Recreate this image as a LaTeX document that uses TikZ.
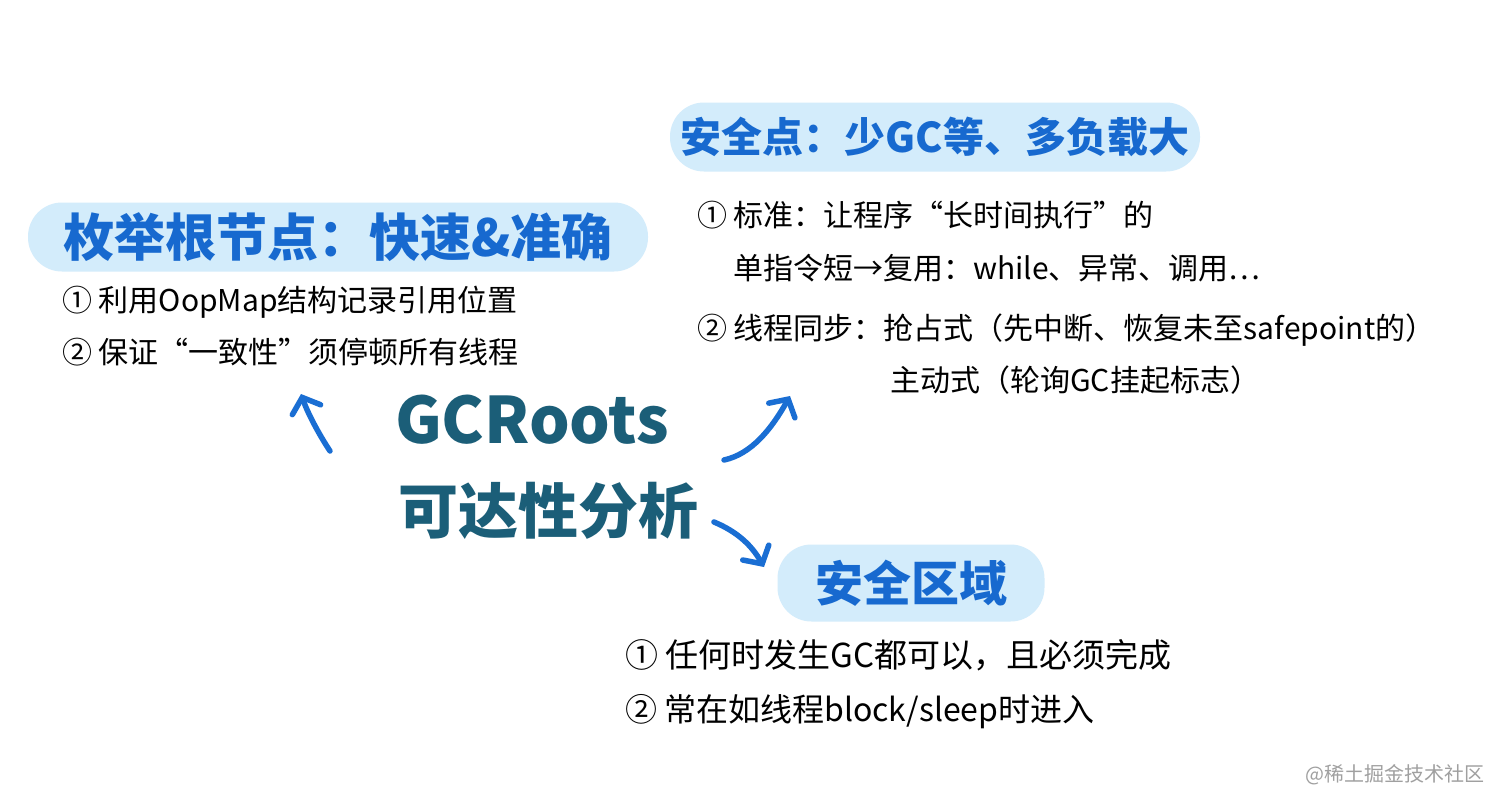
\documentclass[tikz,border=0pt]{standalone}
\usepackage{fontspec}
\setmainfont{Noto Sans CJK SC}
\usetikzlibrary{arrows.meta}
\definecolor{pillfill}{HTML}{D3ECFB}
\definecolor{titleblue}{HTML}{1769CF}
\definecolor{hubteal}{HTML}{1B5E78}
\definecolor{arrowblue}{HTML}{1A6ED3}
\definecolor{wmgray}{HTML}{A0A0A0}
\begin{document}
\begin{tikzpicture}[x=1pt,y=-1pt,
  pill/.style={fill=pillfill, rounded corners=34pt, inner sep=0pt, text=titleblue},
  body/.style={anchor=west, inner sep=0pt, font=\fontsize{30}{34}\selectfont},
  hub/.style={text=hubteal, inner sep=0pt},
  arr/.style={draw=arrowblue, line width=5.5pt, line cap=round, line join=round,
              -{Straight Barb[length=13pt,width=30pt,line cap=round]}}
]
\useasboundingbox (0,0) rectangle (1512,809);
\fill[white] (0,0) rectangle (1512,809);

% title pills
\node[pill, minimum width=530pt, minimum height=69pt,
      font=\bfseries\fontsize{41}{46}\selectfont] (sp) at (935,137) {安全点：少GC等、多负载大};
\node[pill, minimum width=620pt, minimum height=69pt,
      font=\bfseries\fontsize{51}{55}\selectfont] (enum) at (338,237) {枚举根节点：快速\&准确};
\node[pill, minimum width=267pt, minimum height=77pt,
      font=\bfseries\fontsize{48}{52}\selectfont] (sr) at (911,583) {安全区域};

% centre
\node[hub, font=\bfseries\fontsize{64}{68}\selectfont] (gc) at (532,420) {GCRoots};
\node[hub, font=\bfseries\fontsize{60}{64}\selectfont] (reach) at (548,511) {可达性分析};

% body texts
\node[body] (l1) at (62,302) {① 利用OopMap结构记录引用位置};
\node[body] (l2) at (62,352) {② 保证“一致性”须停顿所有线程};
\node[body] (r1) at (697,215) {① 标准：让程序“长时间执行”的};
\node[body] (r2) at (733,268) {单指令短→复用：while、异常、调用…};
\node[body] (r3) at (697,330) {② 线程同步：抢占式（先中断、恢复未至safepoint的）};
\node[body] (r4) at (890,380) {主动式（轮询GC挂起标志）};
\node[body, font=\fontsize{33}{36}\selectfont] (b1) at (625,655) {① 任何时发生GC都可以，且必须完成};
\node[body, font=\fontsize{32}{36}\selectfont] (b2) at (625,712) {② 常在如线程block/sleep时进入};

% arrows
\coordinate (a1s) at (330,451);
\coordinate (a1e) at (301,394);
\coordinate (a2s) at (724,460);
\coordinate (a2e) at (790,396);
\coordinate (a3s) at (714,522);
\coordinate (a3e) at (764,567);
\draw[arr] (a1s) .. controls (320,436) and (308,414) .. (a1e);
\draw[arr] (a2s) .. controls (752,454) and (772,428) .. (a2e);
\draw[arr] (a3s) .. controls (738,532) and (752,546) .. (a3e);

% watermark
\node[text=wmgray, inner sep=0pt, font=\fontsize{20}{22}\selectfont] (wm) at (1395,775) {@稀土掘金技术社区};
\end{tikzpicture}
\end{document}
